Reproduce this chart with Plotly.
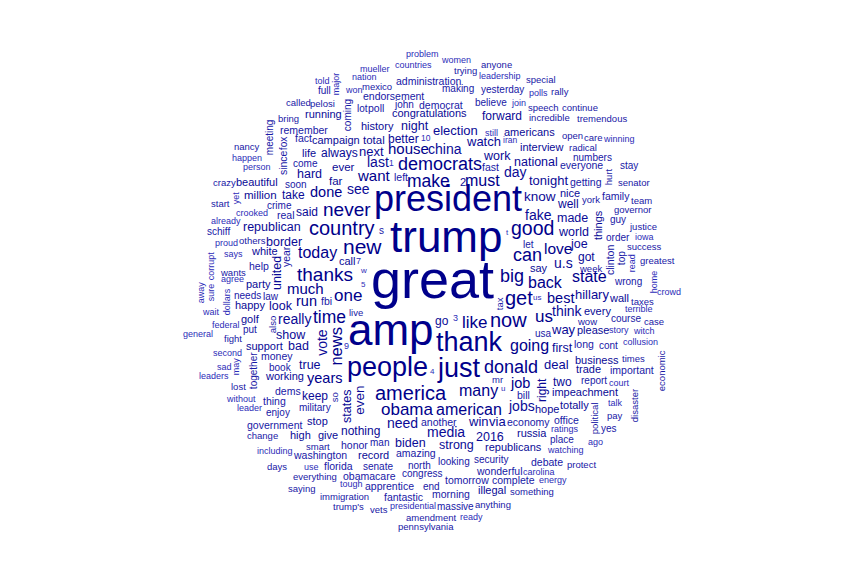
import numpy as np
import plotly.graph_objects as go

# word cloud of tweet vocabulary: word, position in the cloud (page pixels), count
words = [
    "problem", "women", "countries", "anyone", "mueller", "trying", "nation", "leadership", "special", "major",
    "told", "administration", "mexico", "won", "making", "yesterday", "polls", "rally", "full", "endorsement",
    "called", "pelosi", "join", "john", "democrat", "believe", "speech", "continue", "lot", "poll",
    "coming", "running", "bring", "congratulations", "forward", "incredible", "tremendous", "history", "night", "remember",
    "meeting", "election", "still", "americans", "open", "care", "winning", "fact", "campaign", "total",
    "better", "10", "watch", "iran", "nancy", "fox", "since", "life", "always", "next",
    "house", "china", "interview", "radical", "happen", "work", "numbers", "come", "ever", "last",
    "1", "democrats", "fast", "national", "everyone", "stay", "person", "hurt", "hard", "want",
    "left", "make", "2", "must", "day", "tonight", "getting", "senator", "far", "crazy",
    "beautiful", "soon", "done", "see", "know", "nice", "york", "family", "team", "yet",
    "million", "take", "start", "crime", "president", "well", "never", "crooked", "real", "said",
    "fake", "made", "things", "governor", "guy", "justice", "already", "republican", "country", "s",
    "trump", "t", "good", "world", "order", "iowa", "schiff", "proud", "others", "border",
    "new", "let", "love", "joe", "clinton", "top", "success", "says", "white", "year",
    "today", "can", "u.s", "got", "read", "greatest", "corrupt", "united", "help", "call",
    "7", "say", "week", "wants", "thanks", "w", "big", "state", "wrong", "home",
    "agree", "party", "great", "5", "back", "crowd", "away", "sure", "much", "dollars",
    "needs", "law", "one", "get", "us", "best", "hillary", "wall", "taxes", "happy",
    "look", "run", "fbi", "tax", "wait", "really", "time", "live", "now", "us",
    "think", "every", "terrible", "golf", "also", "go", "3", "like", "wow", "course",
    "case", "federal", "put", "show", "amp", "usa", "way", "please", "story", "witch",
    "general", "fight", "vote", "news", "thank", "going", "first", "long", "cont", "collusion",
    "support", "bad", "9", "second", "money", "times", "business", "true", "people", "4",
    "just", "donald", "deal", "sad", "may", "book", "trade", "important", "economic", "together",
    "leaders", "working", "years", "mr", "u", "job", "right", "two", "report", "court",
    "lost", "dems", "keep", "so", "states", "even", "america", "many", "bill", "impeachment",
    "without", "thing", "military", "leader", "enjoy", "obama", "american", "jobs", "hope", "totally",
    "political", "talk", "disaster", "stop", "pay", "government", "need", "another", "win", "via",
    "economy", "office", "change", "high", "give", "nothing", "media", "2016", "russia", "ratings",
    "yes", "smart", "honor", "man", "biden", "strong", "place", "ago", "including", "washington",
    "record", "amazing", "republicans", "watching", "days", "use", "florida", "senate", "north", "looking",
    "security", "debate", "protect", "everything", "obamacare", "congress", "wonderful", "carolina", "tough", "apprentice",
    "end", "tomorrow", "complete", "energy", "saying", "illegal", "immigration", "fantastic", "morning", "something",
    "trump's", "vets", "presidential", "massive", "anything", "amendment", "ready", "pennsylvania",
]

word_x = [
    422, 456, 413, 496, 375, 465, 364, 500, 541, 337,
    322, 429, 377, 354, 458, 502, 538, 560, 324, 393,
    298, 322, 518, 404, 441, 491, 543, 580, 362, 376,
    348, 323, 288, 429, 502, 549, 602, 377, 415, 304,
    270, 455, 491, 529, 572, 593, 619, 303, 336, 374,
    403, 426, 483, 510, 247, 284, 284, 309, 339, 371,
    408, 445, 541, 583, 247, 497, 592, 305, 343, 378,
    391, 440, 490, 536, 581, 629, 257, 609, 309, 374,
    401, 428, 463, 482, 515, 548, 586, 634, 336, 224,
    257, 296, 326, 358, 540, 570, 591, 616, 641, 237,
    260, 293, 220, 279, 448, 568, 347, 252, 286, 307,
    538, 572, 599, 633, 618, 643, 226, 272, 342, 381,
    446, 507, 532, 573, 618, 644, 218, 226, 252, 284,
    362, 528, 558, 579, 611, 622, 644, 233, 264, 287,
    317, 527, 563, 586, 633, 657, 212, 278, 259, 347,
    358, 539, 590, 233, 325, 363, 512, 589, 628, 655,
    232, 258, 432, 363, 545, 669, 202, 212, 305, 228,
    247, 271, 348, 519, 537, 560, 592, 619, 642, 250,
    281, 306, 326, 500, 211, 294, 329, 356, 508, 544,
    567, 597, 639, 250, 273, 442, 455, 475, 587, 626,
    654, 226, 250, 291, 391, 543, 563, 593, 619, 644,
    198, 233, 323, 337, 469, 529, 562, 584, 608, 640,
    264, 298, 346, 227, 277, 633, 597, 310, 387, 432,
    459, 511, 556, 224, 237, 280, 588, 632, 662, 254,
    214, 284, 324, 497, 503, 520, 543, 562, 594, 619,
    238, 288, 315, 335, 348, 360, 411, 478, 523, 585,
    241, 274, 315, 249, 278, 407, 469, 521, 547, 574,
    595, 615, 635, 317, 615, 275, 402, 439, 478, 497,
    528, 566, 262, 300, 328, 360, 446, 490, 532, 565,
    609, 318, 354, 379, 410, 456, 562, 595, 275, 320,
    373, 416, 513, 565, 277, 311, 338, 378, 419, 454,
    491, 547, 581, 315, 369, 422, 499, 539, 351, 389,
    431, 467, 513, 553, 301, 492, 344, 403, 451, 532,
    348, 379, 413, 455, 493, 431, 471, 426,
]

word_y = [
    55, 61, 66, 65, 70, 71, 78, 77, 80, 84,
    82, 82, 87, 91, 89, 90, 94, 92, 91, 97,
    103, 104, 104, 105, 106, 103, 108, 108, 109, 109,
    115, 115, 119, 114, 117, 118, 119, 127, 127, 131,
    137, 132, 134, 133, 136, 138, 140, 139, 141, 141,
    140, 139, 143, 141, 147, 144, 163, 154, 154, 153,
    150, 150, 148, 148, 159, 157, 158, 164, 168, 163,
    164, 166, 168, 163, 166, 166, 168, 177, 175, 177,
    178, 182, 183, 182, 173, 182, 183, 183, 182, 183,
    183, 185, 193, 190, 198, 194, 200, 197, 201, 198,
    196, 196, 204, 206, 202, 205, 211, 214, 216, 213,
    216, 219, 225, 210, 220, 227, 222, 228, 230, 231,
    240, 233, 230, 233, 238, 238, 232, 244, 241, 243,
    248, 245, 250, 245, 260, 258, 247, 255, 252, 257,
    254, 257, 264, 258, 263, 261, 266, 273, 267, 262,
    262, 269, 269, 273, 276, 271, 278, 278, 282, 282,
    280, 285, 284, 285, 284, 293, 292, 292, 290, 302,
    296, 297, 297, 300, 298, 299, 296, 299, 302, 306,
    307, 302, 302, 304, 313, 320, 318, 313, 322, 318,
    312, 312, 310, 320, 325, 322, 319, 324, 322, 319,
    322, 326, 330, 336, 333, 334, 331, 331, 331, 332,
    335, 339, 342, 346, 344, 347, 349, 345, 346, 343,
    347, 347, 347, 354, 357, 359, 361, 366, 369, 372,
    370, 369, 366, 368, 366, 368, 370, 371, 371, 371,
    377, 377, 379, 380, 389, 384, 390, 383, 381, 384,
    387, 392, 397, 397, 406, 400, 395, 392, 396, 393,
    400, 402, 408, 409, 413, 411, 411, 407, 410, 406,
    418, 404, 406, 422, 416, 426, 424, 423, 423, 423,
    423, 421, 436, 436, 436, 432, 433, 438, 434, 430,
    429, 447, 446, 443, 444, 446, 440, 443, 452, 456,
    456, 454, 448, 451, 467, 468, 467, 467, 466, 462,
    460, 463, 465, 477, 477, 474, 472, 473, 485, 487,
    487, 481, 481, 481, 489, 491, 497, 498, 495, 492,
    507, 510, 507, 507, 505, 518, 518, 527,
]

counts = [
    40, 40, 40, 50, 40, 50, 40, 40, 50, 40,
    40, 70, 50, 40, 60, 60, 40, 50, 60, 70,
    50, 50, 40, 60, 70, 60, 50, 50, 60, 70,
    60, 80, 50, 80, 100, 50, 50, 80, 110, 70,
    60, 120, 40, 80, 50, 50, 40, 70, 80, 90,
    100, 30, 120, 30, 50, 60, 70, 80, 100, 120,
    160, 140, 80, 50, 40, 110, 60, 60, 90, 140,
    30, 220, 70, 110, 70, 60, 40, 50, 110, 160,
    70, 210, 80, 180, 140, 120, 70, 50, 90, 50,
    80, 60, 150, 140, 130, 80, 50, 70, 50, 40,
    90, 100, 50, 60, 580, 100, 240, 40, 70, 100,
    140, 110, 80, 50, 60, 50, 40, 110, 260, 60,
    740, 20, 250, 110, 60, 40, 60, 40, 50, 110,
    280, 60, 170, 110, 70, 60, 50, 40, 80, 70,
    180, 220, 140, 100, 40, 50, 40, 110, 70, 80,
    40, 80, 50, 50, 240, 20, 220, 180, 60, 40,
    40, 80, 940, 20, 180, 40, 40, 40, 160, 40,
    60, 60, 200, 260, 20, 150, 120, 80, 50, 80,
    110, 150, 70, 50, 40, 140, 210, 50, 260, 200,
    140, 80, 40, 80, 50, 100, 40, 200, 50, 60,
    50, 40, 60, 110, 740, 60, 120, 80, 40, 40,
    40, 50, 140, 190, 400, 180, 110, 70, 60, 40,
    80, 110, 40, 40, 70, 50, 80, 110, 400, 20,
    400, 220, 120, 40, 40, 60, 80, 70, 50, 60,
    40, 80, 150, 50, 20, 150, 100, 100, 60, 40,
    50, 70, 100, 50, 110, 130, 260, 180, 70, 80,
    40, 70, 60, 40, 60, 200, 180, 140, 80, 80,
    50, 40, 50, 80, 50, 70, 140, 70, 120, 120,
    70, 70, 50, 80, 80, 100, 140, 110, 80, 40,
    60, 50, 70, 60, 110, 110, 60, 40, 40, 70,
    80, 70, 80, 40, 50, 40, 70, 60, 60, 60,
    60, 70, 50, 50, 70, 60, 70, 40, 40, 70,
    60, 70, 70, 40, 50, 80, 50, 70, 70, 50,
    50, 50, 40, 60, 50, 50, 40, 50,
]

# words set vertically (reading bottom to top)
rotated = [
    "major", "coming", "meeting", "fox", "since", "hurt", "yet", "things", "clinton", "top",
    "year", "read", "corrupt", "united", "home", "away", "sure", "dollars", "tax", "also",
    "vote", "news", "may", "economic", "together", "right", "so", "states", "even",
    "political", "disaster",
]

# count -> font size, linear like wordcloud's scale
c = np.array(counts, dtype=float)
size_min, size_max = 8, 54
font_px = size_min + (size_max - size_min) * (c - c.min()) / (c.max() - c.min())

# darker blue for more frequent words
palette = ["#2c2cb8", "#1818a6", "#0a0a96", "#00008b"]
color_bin = np.digitize(c, [45, 75, 145])

fig = go.Figure()
fig.add_trace(go.Scatter(x=[], y=[], hoverinfo="skip", showlegend=False))

for i, w in enumerate(words):
    fs = font_px[i]
    vertical = w in rotated
    # shift so the glyph body, not the line box, sits on the point
    px = word_x[i] - (0.085 * fs if vertical else 0)
    py = word_y[i] - (0 if vertical else 0.085 * fs)
    fig.add_annotation(
        x=px, y=py, xref="x", yref="y",
        text=w, showarrow=False,
        textangle=-90 if vertical else 0,
        xanchor="center", yanchor="middle",
        font=dict(family="Liberation Sans, Arial, sans-serif",
                  size=fs, color=palette[color_bin[i]]),
    )

# the page body has an 8px margin; the axes start at 8 so units stay page pixels
fig.update_layout(
    width=848, height=560,
    margin=dict(l=0, r=0, t=0, b=0),
    paper_bgcolor="white", plot_bgcolor="white",
    xaxis=dict(range=[8, 856], visible=False, fixedrange=True),
    yaxis=dict(range=[568, 8], visible=False, fixedrange=True),
    showlegend=False,
)

fig.write_html("out.html")
